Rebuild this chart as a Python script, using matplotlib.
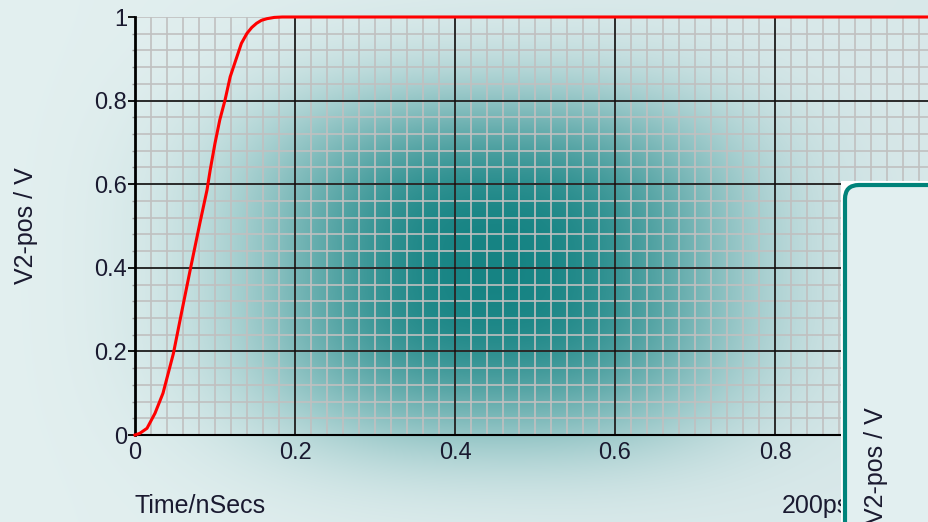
import numpy as np
import matplotlib
matplotlib.use("Agg")
import matplotlib.pyplot as plt
from matplotlib.patches import Rectangle, FancyBboxPatch

plt.rcParams['font.family'] = ['Liberation Sans', 'DejaVu Sans']

# ---- data ----
t_ns = [0, 0.006, 0.015, 0.025, 0.035, 0.048, 0.058, 0.069, 0.081, 0.090,
        0.094, 0.100, 0.106, 0.1125, 0.119, 0.126, 0.133, 0.140, 0.146,
        0.152, 0.158, 0.165, 0.174, 0.184, 1.0]
v2_pos = [0, 0.004, 0.016, 0.052, 0.100, 0.195, 0.291, 0.395, 0.506, 0.586,
          0.634, 0.698, 0.754, 0.801, 0.857, 0.897, 0.937, 0.961, 0.975,
          0.985, 0.992, 0.996, 0.999, 1.0, 1.0]

x_major = [0, 0.2, 0.4, 0.6, 0.8, 1.0]
x_labels = ["0", "0.2", "0.4", "0.6", "0.8", ""]
y_major = [0, 0.2, 0.4, 0.6, 0.8, 1.0]
y_labels = ["0", "0.2", "0.4", "0.6", "0.8", "1"]

W, H = 929, 522
fig = plt.figure(figsize=(W / 100, H / 100), dpi=100)

# ---- background gradient (whole figure) ----
bg = fig.add_axes([0, 0, 1, 1], zorder=0)
bg.set_axis_off()
X, Y = np.meshgrid(np.arange(W), np.arange(H))
base_l = np.array([0.89, 0.94, 0.94])
base_r = np.array([0.85, 0.91, 0.915])
fx = (X / W)[..., None]
img = base_l * (1 - fx) + base_r * fx
teal = np.array([0.0, 0.47, 0.47])
gx = np.exp(-0.693 * np.abs((X - 495) / 205.0) ** 2.5)
gy = np.exp(-0.693 * np.abs((Y - 265) / 150.0) ** 3)
a = (0.9 * gx * gy)[..., None]
img = img * (1 - a) + teal * a
bg.imshow(img, extent=[0, W, H, 0], aspect="auto", interpolation="bilinear")
bg.set_xlim(0, W)
bg.set_ylim(H, 0)

# ---- main axes ----
ax = fig.add_axes([135 / W, 87 / H, 800 / W, 418 / H], zorder=1)
ax.set_facecolor("none")
ax.set_xlim(0, 1)
ax.set_ylim(0, 1)

for xv in np.arange(0, 1.0001, 0.02):
    ax.axvline(xv, color="#c0c0c0", lw=1.2, zorder=1)
for yv in np.arange(0, 1.0001, 0.04):
    ax.axhline(yv, color="#c0c0c0", lw=1.2, zorder=1)
for xv in x_major[1:]:
    ax.axvline(xv, color="#111111", lw=1.2, zorder=2)
for yv in y_major[1:-1]:
    ax.axhline(yv, color="#111111", lw=1.2, zorder=2)

ax.plot(t_ns, v2_pos, color="#ff0000", lw=2.2, zorder=4, clip_on=False)

for s in ["top", "right"]:
    ax.spines[s].set_visible(False)
ax.spines["left"].set_linewidth(2.0)
ax.spines["bottom"].set_linewidth(1.5)
ax.spines["left"].set_zorder(3)
ax.spines["bottom"].set_zorder(3)

ax.set_xticks(x_major)
ax.set_xticklabels(x_labels)
ax.set_yticks(y_major)
ax.set_yticklabels(y_labels)
ax.set_yticks(np.arange(0, 1.0001, 0.04), minor=True)
ax.tick_params(axis="x", length=0, pad=5, labelsize=17, labelcolor="#1a1a30")
ax.tick_params(axis="y", which="major", length=5, width=1.3, pad=0.5,
               labelsize=17, labelcolor="#1a1a30")
ax.tick_params(axis="y", which="minor", length=2, width=1, color="#999999")

fig.text(26 / W, 1 - 226 / H, "V2-pos / V", rotation=90, ha="center",
         va="center", fontsize=18, color="#1a1a30")
fig.text(135 / W, 1 - 506 / H, "Time/nSecs", ha="left", va="center",
         fontsize=18, color="#1a1a30")
fig.text(782 / W, 1 - 506 / H, "200ps", ha="left", va="center",
         fontsize=18, color="#1a1a30", zorder=3)

# ---- overlapping window on the right ----
ov = fig.add_axes([0, 0, 1, 1], zorder=5)
ov.set_axis_off()
ov.patch.set_visible(False)
ov.set_xlim(0, W)
ov.set_ylim(H, 0)
ov.add_patch(Rectangle((841, 181), 120, 400, facecolor="white",
                       edgecolor="none"))
ov.add_patch(FancyBboxPatch((845, 185), 120, 400,
                            boxstyle="round,pad=0,rounding_size=14",
                            facecolor="#e2eff0", edgecolor="#00837a",
                            lw=3.0))
ov.text(876, 407, "V2-pos / V", rotation=90, ha="center", va="top",
        fontsize=18, color="#1a1a30")

fig.savefig("out.png", dpi=100)
